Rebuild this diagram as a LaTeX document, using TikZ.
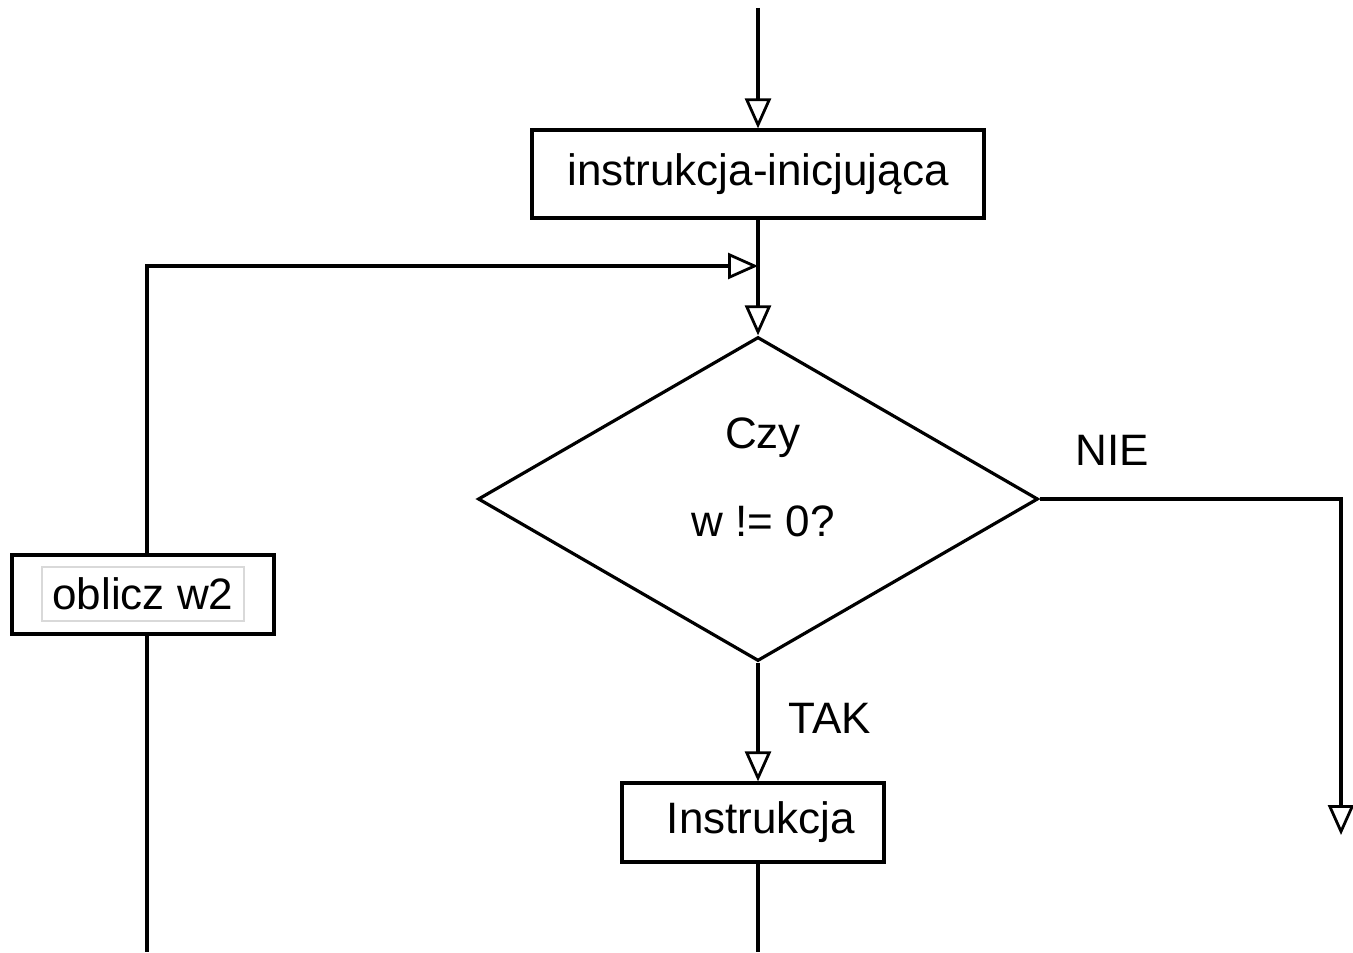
\documentclass[tikz,border=0pt]{standalone}
\usepackage{fontspec}
\setmainfont{Liberation Sans}
\usetikzlibrary{arrows.meta,shapes.geometric}
\begin{document}
\begin{tikzpicture}[x=0.5pt,y=-0.5pt,
  line width=1.6pt,
  arr/.style={-{Triangle[open,length=15pt,width=13pt,line width=1.4pt]}},
  box/.style={draw,rectangle,inner sep=0pt,font=\fontsize{22}{26}\selectfont},
  lbl/.style={inner sep=0pt,font=\fontsize{22}{26}\selectfont}]
\useasboundingbox (0,0) rectangle (1353,952);
\fill[white] (0,0) rectangle (1353,952);
% nodes
\node[box,minimum width=226pt,minimum height=44pt] (T) at (758,174) {instrukcja-inicjująca};
\node[draw,diamond,inner sep=0pt,minimum width=280pt,minimum height=162pt] (D) at (758,499) {};
\node[lbl] (c1) at (763,438) {Czy};
\node[lbl] (c2) at (763,521) {w != 0?};
\node[lbl] (nie) at (1112,450) {NIE};
\node[lbl] (tak) at (830,718) {TAK};
\node[box,minimum width=131pt,minimum height=39.5pt] (I) at (753,822.5) {\hspace{8pt}Instrukcja};
\node[draw,rectangle,inner sep=0pt,minimum width=131pt,minimum height=39.5pt] (O) at (143,594.5) {};
\node[box,draw=black!15,line width=0.6pt,minimum width=101pt,minimum height=27pt] (Ot) at (143,594) {oblicz w2};
% coordinates
\coordinate (top) at (758,8);
\coordinate (J) at (758,266);
\coordinate (ox) at (147,0);
\coordinate (R) at (1341,835);
\coordinate (bI) at (758,952);
\coordinate (bO) at (147,952);
% connectors
\draw[arr] (top) -- (top |- T.north);
\draw[arr] (T.south) -- (D.north);
\draw[arr] (ox |- O.north) |- (J);
\draw[arr] (D.east) -| (R);
\draw[arr] (D.south) -- (D.south |- I.north);
\draw (bI |- I.south) -- (bI);
\draw (ox |- O.south) -- (bO);
\end{tikzpicture}
\end{document}
